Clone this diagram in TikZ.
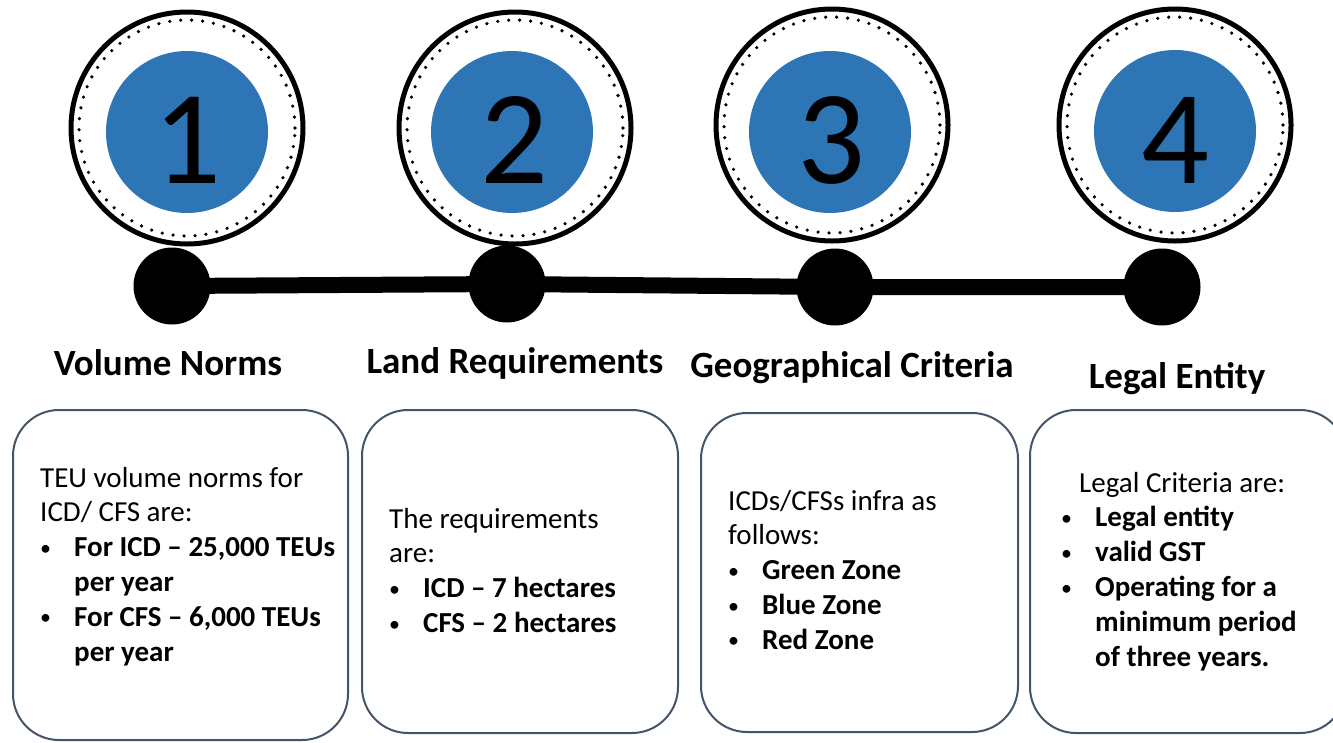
\documentclass[tikz,border=0pt]{standalone}
\usepackage{fontspec}
\setmainfont{Carlito}
\usetikzlibrary{positioning}
\definecolor{discblue}{RGB}{46,117,182}
\definecolor{cardline}{RGB}{68,84,106}
\newlength{\bulw}\setlength{\bulw}{34pt}
\newcommand{\itm}[1]{\makebox[\bulw][l]{\raisebox{1.5pt}{\fontsize{22}{22}\selectfont\textbullet}}\textbf{#1}}
\newcommand{\cnt}[1]{\hspace*{\bulw}\textbf{#1}}

\begin{document}
\begin{tikzpicture}[x=1pt,y=-1pt]
    \tikzstyle{ring}=[circle, draw=black, line width=5pt, minimum size=232pt, inner sep=0pt]
    \tikzstyle{dots}=[circle, draw=black, line width=3.6pt, dash pattern=on 0pt off 11pt, line cap=round, minimum size=216pt, inner sep=0pt]
    \tikzstyle{disc}=[circle, fill=discblue, minimum size=162pt, inner sep=0pt]
    \tikzstyle{num}=[font=\fontsize{134}{140}\selectfont, inner sep=0pt]
    \tikzstyle{knob}=[circle, fill=black, minimum size=77pt, inner sep=0pt]
    \tikzstyle{title}=[font=\fontsize{37}{40}\selectfont\bfseries, anchor=base, inner sep=0pt]
    \tikzstyle{card}=[rectangle, rounded corners=46pt, draw=cardline, line width=2pt, inner sep=0pt]
    \tikzstyle{body}=[font=\fontsize{29}{34.8}\selectfont, align=left, anchor=north west, inner sep=0pt]
    \tikzstyle{connect}=[line width=16pt]

      \useasboundingbox (0,0) rectangle (1333,742);

      % circles with numbers
      \node[ring] (r1) at (187,128) {};
      \node[ring] (r2) at (515,128) {};
      \node[ring] (r3) at (832,125) {};
      \node[ring] (r4) at (1175,125) {};
      \node[dots] (o1) at (r1.center) {};
      \node[dots] (o2) at (r2.center) {};
      \node[dots] (o3) at (r3.center) {};
      \node[dots] (o4) at (r4.center) {};
      \node[disc] (c1) at (187,132) {};
      \node[disc] (c2) at (512,132) {};
      \node[disc] (c3) at (830,132) {};
      \node[disc] (c4) at (1175,131) {};
      \node[num] (n1) at (187,140) {1};
      \node[num] (n2) at (514,140) {2};
      \node[num] (n3) at (831,140) {3};
      \node[num] (n4) at (1175,140) {4};

      % timeline
      \node[knob] (k1) at (172,286) {};
      \node[knob] (k2) at (507,284) {};
      \node[knob] (k3) at (835,287) {};
      \node[knob] (k4) at (1162,287) {};
      \draw[connect] (k1.center) -- (k2.center) -- (k3.center) -- (k4.center);

      % headings
      \node[title] (t1) at (168,375) {Volume Norms};
      \node[title] (t2) at (515,373) {Land Requirements};
      \node[title] (t3) at (852,377) {Geographical Criteria};
      \node[title] (t4) at (1177,388) {Legal Entity};

      % cards
      \node[card, minimum width=335pt, minimum height=330pt] (b1) at (180.5,575) {};
      \node[card, minimum width=316pt, minimum height=323pt] (b2) at (520,571.5) {};
      \node[card, minimum width=317pt, minimum height=319pt] (b3) at (859.5,572.5) {};
      \node[card, minimum width=316pt, minimum height=323pt] (b4) at (1188,571.5) {};

      \node[body] (x1) at (40,462.6) {\strut TEU volume norms for\\ICD/ CFS are:\\\itm{For ICD – 25,000 TEUs}\\\cnt{per year}\\\itm{For CFS – 6,000 TEUs}\\\cnt{per year}};
      \node[body] (x2) at (389,503.6) {\strut The requirements\\are:\\\itm{ICD – 7 hectares}\\\itm{CFS – 2 hectares}};
      \node[body] (x3) at (728,485.6) {\strut ICDs/CFSs infra as\\follows:\\\itm{Green Zone}\\\itm{Blue Zone}\\\itm{Red Zone}};
      \node[body] (x4) at (1061,467.6) {\strut\hspace*{18pt}Legal Criteria are:\\\itm{Legal entity}\\\itm{valid GST}\\\itm{Operating for a}\\\cnt{minimum period}\\\cnt{of three years.}};
\end{tikzpicture}
\end{document}
